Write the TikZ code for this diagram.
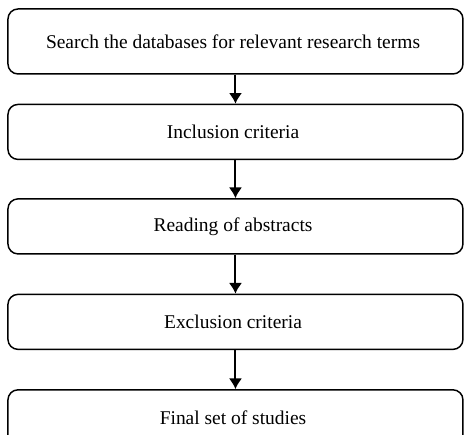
\documentclass[tikz,border=0pt]{standalone}
\usepackage{fontspec}
\setmainfont{Liberation Serif}
\usepackage{tikz}
\usetikzlibrary{arrows.meta, positioning}

\begin{document}
\begin{tikzpicture}[
        node distance=28.5pt,
        box/.style={
            draw,
            rounded corners=7.5pt,
            align=center,
            line width=1.1pt,
            minimum width=341.25pt,
            minimum height=41.25pt,
            inner sep=0pt,
            font=\fontsize{14.6}{17}\selectfont
        },
        arrow/.style={
            -{Latex[length=8pt, width=10pt]},
            line width=1.5pt
        }
    ]

    % Page frame
    \useasboundingbox (0,0) rectangle (348.75pt,-326.25pt);

    % Main workflow
    \node[box, minimum height=48.75pt] (search) at (176.6pt,-31.1pt) {
        Search the databases for relevant research terms
    };

    \node[box, below=21.75pt of search] (inclusion) {
        Inclusion criteria
    };

    \node[box, below=of inclusion] (abstracts) {
        Reading of abstracts
    };

    \node[box, below=29.25pt of abstracts] (exclusion) {
        Exclusion criteria
    };

    \node[box, below=29.25pt of exclusion] (final) {
        Final set of studies
    };

    % Main arrows
    \draw[arrow] (search) -- (inclusion);
    \draw[arrow] (inclusion) -- (abstracts);
    \draw[arrow] (abstracts) -- (exclusion);
    \draw[arrow] (exclusion) -- (final);

\end{tikzpicture}
\end{document}
